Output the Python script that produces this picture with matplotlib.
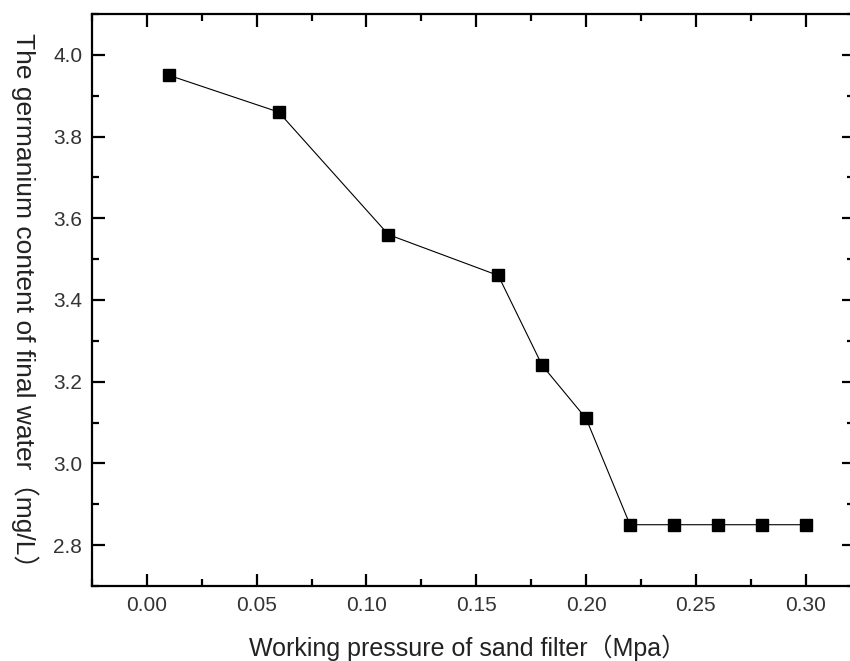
import matplotlib
matplotlib.use("Agg")
import matplotlib.pyplot as plt
from matplotlib.ticker import MultipleLocator

# data
pressure = [0.01, 0.06, 0.11, 0.16, 0.18, 0.20, 0.22, 0.24, 0.26, 0.28, 0.30]
germanium = [3.95, 3.86, 3.56, 3.46, 3.24, 3.11, 2.85, 2.85, 2.85, 2.85, 2.85]

fonts = ['Liberation Sans', 'Noto Sans CJK SC', 'DejaVu Sans']
plt.rcParams['font.family'] = fonts

fig = plt.figure(figsize=(8.5, 6.61), dpi=100)
ax = fig.add_axes([92 / 850, 1 - 586 / 661, (854 - 92) / 850, (586 - 14) / 661])

ax.plot(pressure, germanium, color='black', linewidth=0.8,
        marker='s', markersize=9, markerfacecolor='black', markeredgecolor='black')

ax.set_xlim(-0.025, 0.322)
ax.set_ylim(2.7, 4.1)
ax.xaxis.set_major_locator(MultipleLocator(0.05))
ax.xaxis.set_minor_locator(MultipleLocator(0.025))
ax.yaxis.set_major_locator(MultipleLocator(0.2))
ax.yaxis.set_minor_locator(MultipleLocator(0.1))
ax.xaxis.set_major_formatter(plt.FormatStrFormatter('%.2f'))
ax.yaxis.set_major_formatter(plt.FormatStrFormatter('%.1f'))

ax.tick_params(which='both', direction='in', top=True, right=True, colors='black',
               labelcolor='#333333', labelsize=15)
ax.tick_params(which='major', length=9, width=1.6, pad=7)
ax.tick_params(which='minor', length=5, width=1.6)
for s in ax.spines.values():
    s.set_linewidth(1.6)

ax.set_xlabel('Working pressure of sand filter（Mpa）', fontsize=18, color='#222222')
ax.set_ylabel('The germanium content of final water（mg/L）', fontsize=19,
              color='#222222', rotation=-90)
ax.xaxis.set_label_coords((468 - 92) / 762, -(648 - 586) / 572)
ax.yaxis.set_label_coords(-(92 - 25) / 762, (586 - 307) / 572)
ax.xaxis.label.set_va('center')
ax.yaxis.label.set_va('center')

fig.savefig('out.png', dpi=100)
